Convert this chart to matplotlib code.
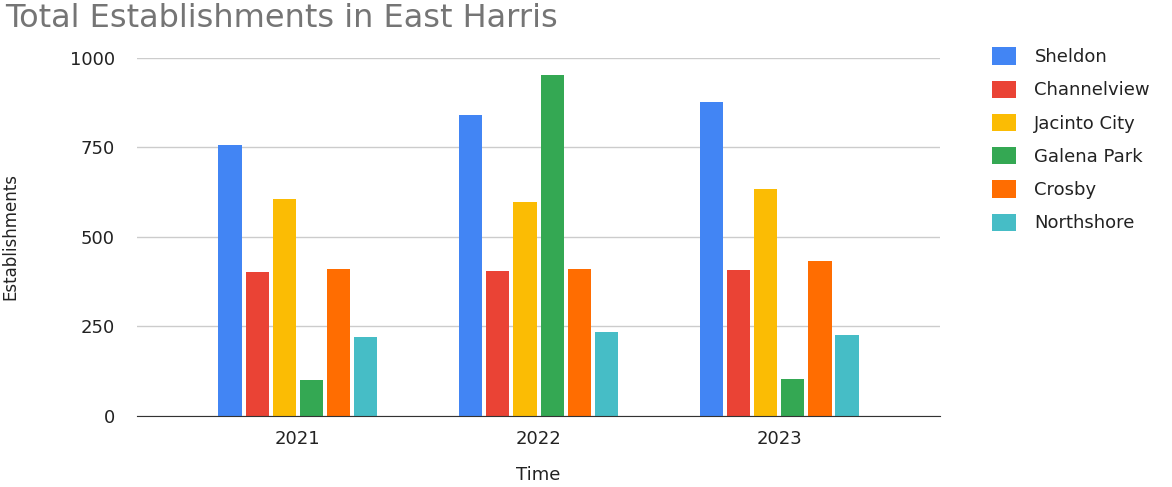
import matplotlib.pyplot as plt
import numpy as np

years = ["2021", "2022", "2023"]
places = ["Sheldon", "Channelview", "Jacinto City", "Galena Park", "Crosby", "Northshore"]
sheldon = [758, 840, 877]
channelview = [403, 404, 408]
jacinto_city = [605, 597, 634]
galena_park = [101, 953, 104]
crosby = [411, 411, 432]
northshore = [221, 233, 226]
colors = ["#4285F4", "#EA4335", "#FBBC04", "#34A853", "#FF6D01", "#46BDC6"]

series = [sheldon, channelview, jacinto_city, galena_park, crosby, northshore]

plt.rcParams['font.family'] = ['DejaVu Sans']

fig = plt.figure(figsize=(11.72, 4.87), dpi=100)
ax = fig.add_axes([0.117, 0.146, 0.685, 0.735])

x = np.arange(len(years))
pitch = 0.1125
width = 0.096
for i, vals in enumerate(series):
    ax.bar(x + (i - 2.5) * pitch, vals, width, color=colors[i], label=places[i], zorder=3)

ax.set_xlim(-0.667, 2.667)
ax.set_ylim(0, 1000)
ax.set_yticks([0, 250, 500, 750, 1000])
ax.set_xticks(x)
ax.set_xticklabels(years)
ax.tick_params(axis='both', length=0, labelsize=13, colors="#222222")
ax.tick_params(axis='y', pad=16)
ax.tick_params(axis='x', pad=10)
ax.grid(axis='y', color="#cccccc", linewidth=1, zorder=0)
for s in ["top", "right", "left"]:
    ax.spines[s].set_visible(False)
ax.spines["bottom"].set_color("#333333")
ax.spines["bottom"].set_zorder(4)

ax.set_ylabel("Establishments", fontsize=12, color="#222222", labelpad=36)
ax.set_xlabel("Time", fontsize=13, color="#222222", labelpad=13)

fig.text(0.004, 0.962, "Total Establishments in East Harris", fontsize=23, color="#757575",
         va="center", ha="left")

ax.legend(loc="upper left", bbox_to_anchor=(1.045, 1.075), frameon=False, fontsize=13,
          handlelength=1.33, handleheight=1.1, handletextpad=1.0, labelspacing=0.8,
          labelcolor="#222222")

fig.savefig("out.png", dpi=100)
